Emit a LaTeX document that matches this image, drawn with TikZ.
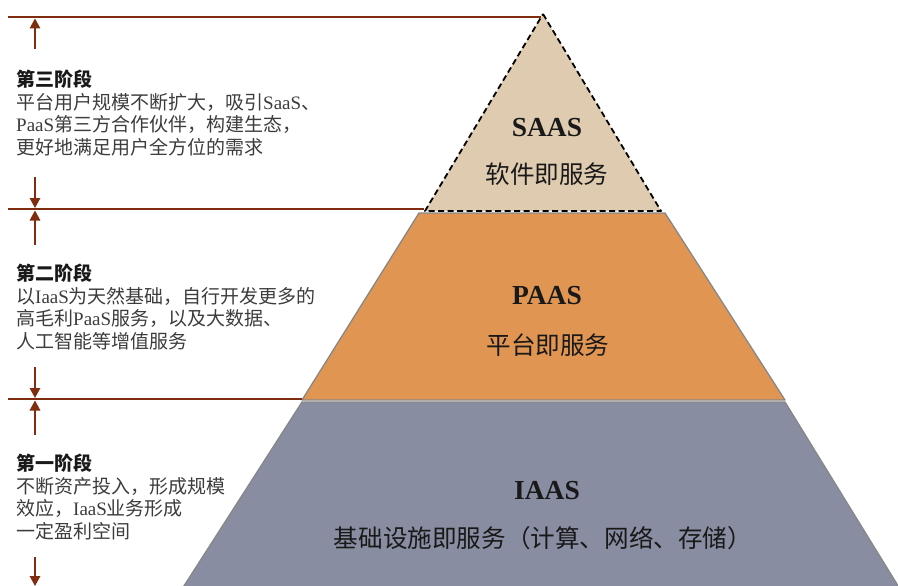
\documentclass[tikz,border=0pt]{standalone}
\usepackage{fontspec}
\setmainfont{Liberation Serif}
\newfontfamily\cjk{Noto Sans CJK SC}
\usetikzlibrary{arrows.meta}
\definecolor{brn}{RGB}{128,44,14}
\definecolor{saasc}{RGB}{223,203,176}
\definecolor{paasc}{RGB}{224,150,82}
\definecolor{iaasc}{RGB}{136,141,161}
\definecolor{edgec}{RGB}{135,135,135}
\definecolor{bodyc}{RGB}{60,60,60}
\newcommand\zh[1]{{\cjk #1}}
\newcommand\hd[1]{{\cjk\bfseries\color{black!90} #1}}
\begin{document}
\begin{tikzpicture}[x=1pt,y=-1pt,
  divline/.style={draw=brn,line width=1.4pt},
  stagearrow/.style={draw=brn,line width=1.5pt,-{Triangle[width=10.5pt,length=10pt]}},
  stagetext/.style={anchor=north west,inner sep=0pt,align=left,
    font=\fontsize{19}{22.6}\selectfont,text=bodyc},
  layer/.style={draw=edgec,line width=1.3pt,line join=round},
  saaslayer/.style={fill=saasc,draw=black,line width=1.8pt,dash pattern=on 6pt off 3.5pt,line join=round},
  acr/.style={inner sep=0pt,font=\fontsize{27.5}{30}\selectfont\bfseries,text=black!90},
  cname/.style={inner sep=0pt,font=\fontsize{24.6}{28}\selectfont\cjk,text=black!90}
]
\useasboundingbox (0,0) rectangle (898,586);

% pyramid corners
\coordinate (apex) at (543,14);
\coordinate (sl) at (425,211);
\coordinate (sr) at (661,211);
\coordinate (ptl) at (419,213);
\coordinate (ptr) at (665,213);
\coordinate (pbl) at (302,400);
\coordinate (pbr) at (785,400);
\coordinate (itl) at (302,402);
\coordinate (itr) at (785,402);
\coordinate (ibl) at (182,589);
\coordinate (ibr) at (900,589);

\begin{scope}
\clip (0,0) rectangle (898,586);
\path[layer,fill=iaasc] (itl) -- (itr) -- (ibr) -- (ibl) -- cycle;
\path[layer,fill=paasc] (ptl) -- (ptr) -- (pbr) -- (pbl) -- cycle;
\path[saaslayer] (apex) -- (sr) -- (sl) -- cycle;
\end{scope}

% layer labels
\node[acr] (saas) at (547,128) {SAAS};
\node[cname] (saasn) at (547,174) {软件即服务};
\node[acr] (paas) at (547,296) {PAAS};
\node[cname] (paasn) at (548,345) {平台即服务};
\node[acr] (iaas) at (547,491) {IAAS};
\node[cname] (iaasn) at (543,538) {基础设施即服务（计算、网络、存储）};

% divider lines
\coordinate (l1) at (8,17);
\coordinate (l1e) at (541,17);
\coordinate (l2) at (8,209);
\coordinate (l2e) at (424,209);
\coordinate (l3) at (8,399);
\coordinate (l3e) at (302,399);
\draw[divline] (l1) -- (l1e);
\draw[divline] (l2) -- (l2e);
\draw[divline] (l3) -- (l3e);

% stage arrows
\coordinate (a1s) at (35,49);  \coordinate (a1t) at (35,18.5);
\coordinate (a2s) at (35,177); \coordinate (a2t) at (35,208);
\coordinate (a3s) at (35,245); \coordinate (a3t) at (35,210.5);
\coordinate (a4s) at (35,367); \coordinate (a4t) at (35,398);
\coordinate (a5s) at (35,435); \coordinate (a5t) at (35,400.5);
\coordinate (a6s) at (35,557); \coordinate (a6t) at (35,586);
\draw[stagearrow] (a1s) -- (a1t);
\draw[stagearrow] (a2s) -- (a2t);
\draw[stagearrow] (a3s) -- (a3t);
\draw[stagearrow] (a4s) -- (a4t);
\draw[stagearrow] (a5s) -- (a5t);
\draw[stagearrow] (a6s) -- (a6t);

% stage texts
\node[stagetext] (st3) at (16,70) {\hd{第三阶段}\\
\zh{平台用户规模不断扩大，吸引}SaaS\zh{、}\\
PaaS\zh{第三方合作伙伴，构建生态，}\\
\zh{更好地满足用户全方位的需求}};
\node[stagetext] (st2) at (16,264) {\hd{第二阶段}\\
\zh{以}IaaS\zh{为天然基础，自行开发更多的}\\
\zh{高毛利}PaaS\zh{服务，以及大数据、}\\
\zh{人工智能等增值服务}};
\node[stagetext] (st1) at (16,454) {\hd{第一阶段}\\
\zh{不断资产投入，形成规模}\\
\zh{效应，}IaaS\zh{业务形成}\\
\zh{一定盈利空间}};
\end{tikzpicture}
\end{document}
